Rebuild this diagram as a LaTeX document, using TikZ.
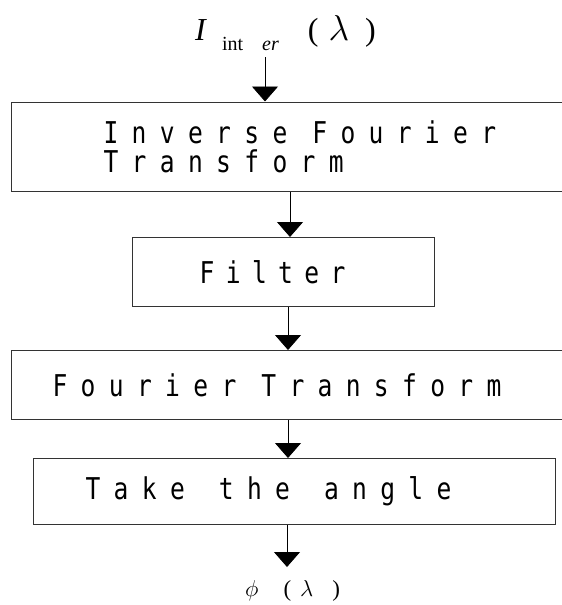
\RequirePackage{fix-cm}
\documentclass[tikz,border=0pt]{standalone}
\usepackage{fontspec}
\usepackage{tikz}
\usetikzlibrary{arrows.meta,positioning}
\newfontfamily\blockfont[FakeStretch=0.82,LetterSpace=44.5]{DejaVu Sans Mono}
\newfontfamily\labelfont{Liberation Serif}
\newcommand{\wgap}[1][25pt]{\nobreak\hspace{#1}} % wide gap between two words
\tikzset{x=1pt, y=-1pt, % one unit is one pixel, y grows downwards
flow/.style={-{Triangle[length=15pt,width=26pt]}, line width=0.8pt}, % the arrows between the steps
block/.style={draw=black!80, line width=1.2pt, anchor=north west, align=left, inner ysep=0pt,
  font={\blockfont\fontsize{30}{29}\selectfont}}, % the boxes of the steps
signal/.style={inner sep=0pt, anchor=base west}, % input and output signals
}

\begin{document}
\begin{tikzpicture}
\useasboundingbox (0,0) rectangle (562,605);

% input
\node[signal, font={\labelfont\fontsize{32}{32}\selectfont}] (inter) at (195,40)
  {\textit{I}\hspace{15pt}\raisebox{-10pt}{\fontsize{20}{20}\selectfont int\hspace{19pt}\textit{er}}\hspace{29pt}(\hspace{10pt}{\fontsize{36}{36}\selectfont$\lambda$}\hspace{16pt})};

% steps
\node[block, text width=369.5pt, inner xsep=92.5pt, minimum height=89pt] (ift) at (10.5,101.5) {Inverse\wgap Fourier\\Transform};
\node[block, text width=168pt, inner xsep=67pt, minimum height=69pt] (filter) at (132,237) {\addfontfeatures{LetterSpace=38}Filter};
\node[block, text width=471.5pt, inner xsep=41.5pt, minimum height=69pt] (ft) at (10.5,350) {Fourier\wgap Transform};
\node[block, text width=418pt, inner xsep=52pt, minimum height=66pt] (angle) at (33,458) {Take\wgap[34pt]the\wgap[34pt]angle};

% output
\node[signal, font={\labelfont\fontsize{23}{23}\selectfont}] (phi) at (245,596)
  {$\phi$\hspace{25pt}(\hspace{9pt}$\lambda$\hspace{19pt})};

\coordinate (in) at (265,57);
\coordinate (c2) at (290,0);
\coordinate (c3) at (288,0);
\coordinate (c5) at (287,0);
\coordinate (out) at (287,567);

\draw[flow] (in) -- (in |- ift.north);
\draw[flow] (ift.south -| c2) -- (filter.north -| c2);
\draw[flow] (filter.south -| c3) -- (ft.north -| c3);
\draw[flow] (ft.south -| c3) -- (angle.north -| c3);
\draw[flow] (angle.south -| c5) -- (out);

\end{tikzpicture}
\end{document}
